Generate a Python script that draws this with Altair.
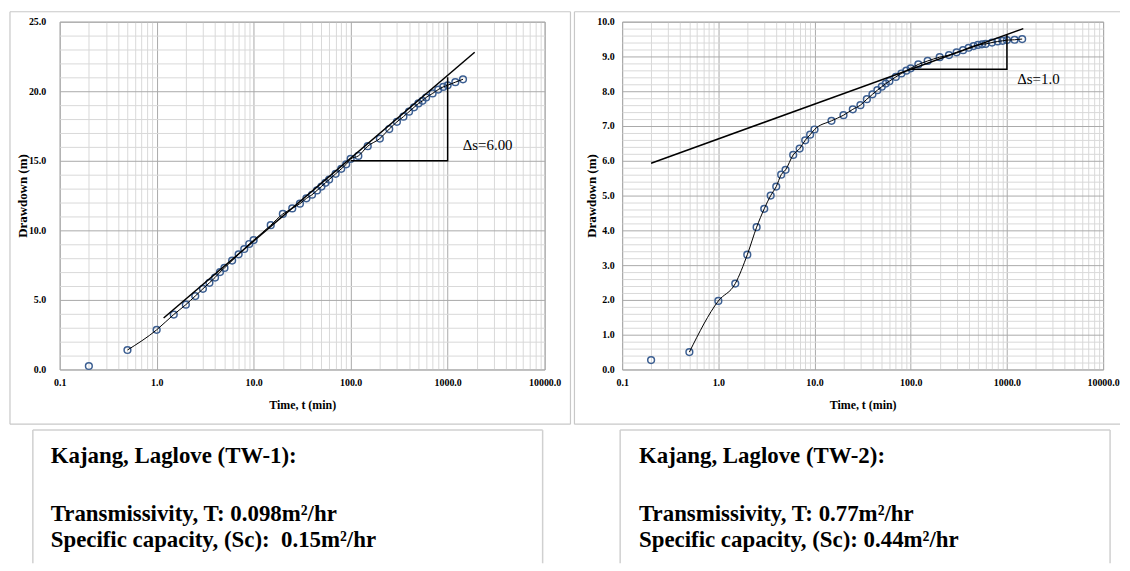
import altair as alt
import pandas as pd

FONT = "Liberation Serif"

# ---- data ----
times = [0.2, 0.5, 1, 1.5, 2, 2.5, 3, 3.5, 4, 4.5, 5, 6, 7, 8, 9, 10, 15, 20, 25, 30,
         35, 40, 45, 50, 55, 60, 70, 80, 90, 100, 120, 150, 200, 250, 300, 350, 400,
         450, 500, 550, 600, 700, 800, 900, 1000, 1200, 1440]
tw1 = [0.25, 1.4, 2.85, 3.95, 4.66, 5.28, 5.8, 6.23, 6.61, 7.0, 7.3, 7.83, 8.28, 8.66,
       9.02, 9.3, 10.37, 11.18, 11.58, 11.92, 12.3, 12.56, 12.87, 13.15, 13.42, 13.65,
       14.06, 14.42, 14.75, 15.13, 15.35, 16.05, 16.6, 17.28, 17.8, 18.17, 18.53, 18.84,
       19.12, 19.31, 19.55, 19.84, 20.12, 20.31, 20.43, 20.65, 20.86]
tw2 = [0.27, 0.5, 1.97, 2.47, 3.3, 4.09, 4.62, 5.0, 5.26, 5.6, 5.74, 6.17, 6.35, 6.59,
       6.75, 6.9, 7.15, 7.31, 7.48, 7.6, 7.77, 7.91, 8.03, 8.13, 8.22, 8.29, 8.41, 8.51,
       8.59, 8.66, 8.77, 8.87, 8.98, 9.04, 9.12, 9.18, 9.25, 9.3, 9.33, 9.35, 9.36, 9.4,
       9.43, 9.45, 9.47, 9.48, 9.5]

fit1_t, fit1_s = [1.18, 1900], [3.7, 22.8]
fit2_t, fit2_s = [0.2, 1480], [5.93, 9.8]
tri1_t, tri1_s = [100, 1000, 1000], [15.0, 15.0, 21.0]
tri2_t, tri2_s = [100, 1000, 1000], [8.63, 8.63, 9.63]

ds1_t, ds1_s, ds1_label = 1430, 16.1, "Δs=6.00"
ds2_t, ds2_s, ds2_label = 1280, 8.36, "Δs=1.0"

info1 = ["Kajang, Laglove (TW-1):",
         "Transmissivity, T: 0.098m²/hr",
         "Specific capacity, (Sc):\u00a0 0.15m²/hr"]
info2 = ["Kajang, Laglove (TW-2):",
         "Transmissivity, T: 0.77m²/hr",
         "Specific capacity, (Sc): 0.44m²/hr"]

x_ticks = [round(m * 10 ** e, 4) for e in range(-1, 4) for m in range(1, 10)] + [10000]
y1_ticks = list(range(0, 26))
y2_ticks = [round(i * 0.2, 1) for i in range(0, 51)]

MAJOR = "#a9a9a9"
MINOR = "#d9d9d9"
DECADE = "abs(log(datum.value)/LN10 - round(log(datum.value)/LN10)) < 0.001"
dummy = pd.DataFrame({"d": [0]})


def rule(x1, x2, y1, y2, color="#c8c8c8", w=1.2):
    return alt.Chart(dummy).mark_rule(color=color, strokeWidth=w).encode(
        x=alt.value(x1), x2=alt.value(x2), y=alt.value(y1), y2=alt.value(y2))


def text_line(s, x, y):
    return alt.Chart(dummy).mark_text(
        text=s, align="left", baseline="alphabetic", font=FONT, fontSize=23,
        fontWeight="bold", color="black").encode(x=alt.value(x), y=alt.value(y))


def panel(vals, fit_t, fit_s, tri_t, tri_s, ds_t, ds_s, ds_label, ymax, yticks,
          ytest, info, W, H, lab_pad, ytitle_x, frame, box, tx):
    df = pd.DataFrame({"t": times, "s": vals})
    X = alt.X("t:Q", scale=alt.Scale(type="log", domain=[0.1, 10000], nice=False),
              axis=alt.Axis(values=x_ticks, grid=True,
                            gridColor={"condition": {"test": DECADE, "value": MAJOR}, "value": MINOR},
                            gridWidth=1, ticks=False, domain=False,
                            labelExpr=DECADE + " ? format(datum.value, '.1f') : ''",
                            labelFont=FONT, labelFontSize=10, labelFontWeight="bold",
                            labelColor="black", labelPadding=8, labelOverlap=False,
                            labelBound=False, labelFlush=False,
                            title="Time, t (min)", titleFont=FONT, titleFontSize=12,
                            titleFontWeight="bold", titleColor="black",
                            titleY=35, titleBaseline="middle"))
    Y = alt.Y("s:Q", scale=alt.Scale(domain=[0, ymax], nice=False, zero=True),
              axis=alt.Axis(values=yticks, grid=True,
                            gridColor={"condition": {"test": ytest, "value": MAJOR}, "value": MINOR},
                            gridWidth=1, ticks=False, domain=False,
                            labelExpr=ytest + " ? format(datum.value, '.1f') : ''",
                            labelFont=FONT, labelFontSize=10, labelFontWeight="bold",
                            labelColor="black", labelPadding=lab_pad, labelOverlap=False,
                            labelBound=False, labelFlush=False,
                            title="Drawdown (m)", titleFont=FONT, titleFontSize=13,
                            titleFontWeight="bold", titleColor="black",
                            titleAngle=270, titleX=ytitle_x, titleY=H / 2,
                            titleBaseline="middle", titleAlign="center"))

    pts = alt.Chart(df).mark_point(shape="circle", filled=False, size=46,
                                   strokeWidth=1.5, color="#3c5f92", opacity=1
                                   ).encode(x=X, y=Y)
    curve = alt.Chart(df).transform_filter("datum.t >= 0.5").mark_line(
        color="black", strokeWidth=1, interpolate="monotone").encode(x=X, y=Y)
    fit = alt.Chart(pd.DataFrame({"t": fit_t, "s": fit_s})).mark_line(
        color="black", strokeWidth=1.5).encode(x=X, y=Y)
    tri = alt.Chart(pd.DataFrame({"t": tri_t, "s": tri_s, "o": [0, 1, 2]})).mark_line(
        color="black", strokeWidth=1.5).encode(x=X, y=Y, order="o:Q")
    ds = alt.Chart(pd.DataFrame({"t": [ds_t], "s": [ds_s]})).mark_text(
        text=ds_label, align="left", baseline="middle", font=FONT, fontSize=15,
        color="black").encode(x=X, y=Y)

    fl, fr, ft, fb, has_right = frame
    deco = [rule(fl, fr, ft, ft), rule(fl, fl, ft, fb), rule(fl, fr, fb, fb)]
    if has_right:
        deco.append(rule(fr, fr, ft, fb))
    bl, br, bt, bb = box
    deco += [rule(bl, br, bt, bt, "#d0d0d0", 1.5), rule(bl, bl, bt, bb, "#d0d0d0", 1.5),
             rule(br, br, bt, bb, "#d0d0d0", 1.5)]
    texts = [text_line(info[0], tx, 444), text_line(info[1], tx, 502),
             text_line(info[2], tx, 529)]
    return alt.layer(pts, curve, fit, tri, ds, *deco, *texts).properties(width=W, height=H)


left = panel(tw1, fit1_t, fit1_s, tri1_t, tri1_s, ds1_t, ds1_s, ds1_label, 25, y1_ticks,
             "datum.value % 5 == 0", info1, 488, 350, 14, -37,
             (-50, 514, -10, 405, True), (-27, 486, 411, 545), -9)
right = panel(tw2, fit2_t, fit2_s, tri2_t, tri2_s, ds2_t, ds2_s, ds2_label, 10, y2_ticks,
              "abs(datum.value - round(datum.value)) < 0.01", info2, 484, 350, 8, -31,
              (-48, 501, -10, 405, False), (-2, 491, 411, 545), 17)

chart = alt.hconcat(left, right, spacing=0).properties(
    padding=0, background="white").configure_view(stroke="#a9a9a9", strokeWidth=1)

chart.save("out.html", embed_options={"renderer": "svg", "actions": False})
